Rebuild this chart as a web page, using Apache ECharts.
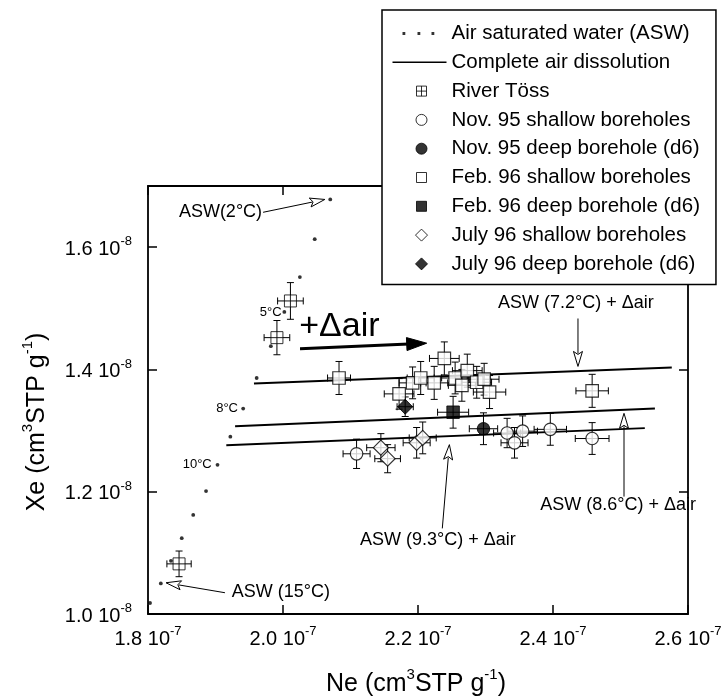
<!DOCTYPE html>
<html><head><meta charset="utf-8">
<script src="https://cdn.jsdelivr.net/npm/echarts@6/dist/echarts.min.js"></script>
<style>html,body{margin:0;padding:0;background:#fff}#c{width:726px;height:699px}</style>
</head><body><div id="c"></div>
<script>
const FONT = 'Liberation Sans, Arial, Helvetica, sans-serif';

// Units: Ne in 1e-7 cm3STP/g, Xe in 1e-8 cm3STP/g
const xExp = '-7';
const yExp = '-8';

// Air saturated water curve (2 .. 16 °C)
const aswNe = [2.070, 2.047, 2.025, 2.002, 1.982, 1.961, 1.941, 1.922, 1.903, 1.886, 1.867, 1.850, 1.834, 1.819, 1.803];
const aswXe = [1.678, 1.613, 1.551, 1.494, 1.438, 1.386, 1.336, 1.290, 1.244, 1.201, 1.162, 1.124, 1.087, 1.050, 1.018];

// Complete air dissolution lines
const line72Ne = [1.957, 2.576]; const line72Xe = [1.377, 1.403];
const line86Ne = [1.929, 2.551]; const line86Xe = [1.307, 1.336];
const line93Ne = [1.916, 2.536]; const line93Xe = [1.276, 1.304];

// River Töss
const riverNe = [2.011, 1.991, 1.846];
const riverXe = [1.512, 1.452, 1.082];
const riverNeErr = [0.019, 0.019, 0.018];
const riverXeErr = [0.030, 0.028, 0.021];

// Nov. 95 shallow
const nov95sNe = [2.109, 2.332, 2.343, 2.355, 2.396, 2.458];
const nov95sXe = [1.262, 1.296, 1.280, 1.299, 1.302, 1.287];
const nov95sNeErr = [0.020, 0.020, 0.020, 0.022, 0.024, 0.025];
const nov95sXeErr = [0.024, 0.024, 0.025, 0.025, 0.026, 0.026];

// Nov. 95 deep
const nov95dNe = [2.297];
const nov95dXe = [1.303];
const nov95dNeErr = [0.021];
const nov95dXeErr = [0.026];

// Feb. 96 shallow
const feb96sNe = [2.083, 2.172, 2.192, 2.204, 2.224, 2.239, 2.255, 2.265, 2.273, 2.287, 2.298, 2.306, 2.458];
const feb96sXe = [1.386, 1.360, 1.378, 1.386, 1.378, 1.418, 1.386, 1.374, 1.398, 1.379, 1.384, 1.363, 1.365];
const feb96sNeErr = [0.017, 0.022, 0.020, 0.020, 0.020, 0.022, 0.020, 0.020, 0.022, 0.022, 0.022, 0.024, 0.024];
const feb96sXeErr = [0.027, 0.025, 0.026, 0.027, 0.027, 0.027, 0.026, 0.026, 0.027, 0.026, 0.026, 0.027, 0.027];

// Feb. 96 deep
const feb96dNe = [2.252];
const feb96dXe = [1.330];
const feb96dNeErr = [0.023];
const feb96dXeErr = [0.026];

// July 96 shallow
const jul96sNe = [2.145, 2.155, 2.198, 2.207];
const jul96sXe = [1.272, 1.254, 1.280, 1.288];
const jul96sNeErr = [0.021, 0.019, 0.020, 0.020];
const jul96sXeErr = [0.023, 0.023, 0.025, 0.026];

// July 96 deep
const jul96dNe = [2.181];
const jul96dXe = [1.339];
const jul96dNeErr = [0.012];
const jul96dXeErr = [0.016];

const legendNames = ['Air saturated water (ASW)', 'Complete air dissolution', 'River Töss',
  'Nov. 95 shallow boreholes', 'Nov. 95 deep borehole (d6)', 'Feb. 96 shallow boreholes',
  'Feb. 96 deep borehole (d6)', 'July 96 shallow boreholes', 'July 96 deep borehole (d6)'];

// annotation anchors (data coordinates)
const notes = [
  {text: 'ASW(2°C)', ne: 1.969, xe: 1.657, align: 'right', size: 18},
  {text: '5°C', ne: 1.998, xe: 1.4926, align: 'right', size: 13},
  {text: '8°C', ne: 1.9333, xe: 1.3358, align: 'right', size: 13},
  {text: '10°C', ne: 1.8944, xe: 1.2444, align: 'right', size: 13},
  {text: 'ASW (15°C)', ne: 1.924, xe: 1.0364, align: 'left', size: 18},
  {text: '+Δair', ne: 2.024, xe: 1.4702, align: 'left', size: 34},
  {text: 'ASW (7.2°C) + Δair', ne: 2.3185, xe: 1.5078, align: 'left', size: 18},
  {text: 'ASW (8.6°C) + Δair', ne: 2.381, xe: 1.178, align: 'left', size: 18},
  {text: 'ASW (9.3°C) + Δair', ne: 2.114, xe: 1.1208, align: 'left', size: 18}
];
const arrows = [
  {from: [1.9705, 1.657], to: [2.062, 1.678], filled: false, w: 1},
  {from: [1.914, 1.0348], to: [1.8267, 1.0511], filled: false, w: 1},
  {from: [2.0252, 1.4338], to: [2.2129, 1.4429], filled: true, w: 3},
  {from: [2.437, 1.4833], to: [2.437, 1.4049], filled: false, w: 1},
  {from: [2.5052, 1.192], to: [2.5052, 1.3282], filled: false, w: 1},
  {from: [2.236, 1.140], to: [2.2465, 1.277], filled: false, w: 1}
];

const zip = (a, b) => a.map((v, i) => [v, b[i]]);

function errSeries(name, ne, xe, eNe, eXe) {
  return {
    type: 'custom', name: name, z: 2, silent: true,
    data: zip(ne, xe),
    encode: {x: 0, y: 1},
    renderItem: function (params, api) {
      const i = params.dataIndex;
      const x = ne[i], y = xe[i];
      const l = api.coord([x - eNe[i], y]), r = api.coord([x + eNe[i], y]);
      const t = api.coord([x, y + eXe[i]]), b = api.coord([x, y - eXe[i]]);
      const c = 3.5;
      const st = {stroke: '#000', lineWidth: 1};
      return {type: 'group', children: [
        {type: 'line', shape: {x1: l[0], y1: l[1], x2: r[0], y2: r[1]}, style: st},
        {type: 'line', shape: {x1: t[0], y1: t[1], x2: b[0], y2: b[1]}, style: st},
        {type: 'line', shape: {x1: l[0], y1: l[1] - c, x2: l[0], y2: l[1] + c}, style: st},
        {type: 'line', shape: {x1: r[0], y1: r[1] - c, x2: r[0], y2: r[1] + c}, style: st},
        {type: 'line', shape: {x1: t[0] - c, y1: t[1], x2: t[0] + c, y2: t[1]}, style: st},
        {type: 'line', shape: {x1: b[0] - c, y1: b[1], x2: b[0] + c, y2: b[1]}, style: st}
      ]};
    }
  };
}

const hollow = {color: '#fff', borderColor: '#000', borderWidth: 1.2};
const solid = {color: '#000', borderColor: '#000', borderWidth: 1};
const crossSq = 'path://M0,0 L10,0 L10,10 L0,10 Z M5,0 L5,10 M0,5 L10,5';

function pointSeries(name, ne, xe, symbol, size, style) {
  return {type: 'scatter', name: name, z: 3, data: zip(ne, xe), symbol: symbol, symbolSize: size, itemStyle: style, silent: true};
}
function lineSeries(ne, xe) {
  return {type: 'line', name: legendNames[1], data: zip(ne, xe), symbol: 'none', z: 2,
    lineStyle: {color: '#000', width: 2}, itemStyle: {color: '#000'}, silent: true};
}

const B = 'M0,0 M54,12 ';
const legendData = [
  {name: legendNames[0], icon: 'path://' + B + 'M10,4.6 h2.8 v2.8 h-2.8 Z M25,4.6 h2.8 v2.8 h-2.8 Z M39,4.6 h2.8 v2.8 h-2.8 Z', itemStyle: {color: '#000', borderWidth: 0}},
  {name: legendNames[1], icon: 'path://' + B + 'M0,5.2 L54,5.2 L54,6.8 L0,6.8 Z', itemStyle: {color: '#000', borderWidth: 0}},
  {name: legendNames[2], icon: 'path://' + B + 'M24,1 h10 v10 h-10 Z M29,1 v10 M24,6 h10', itemStyle: {color: '#fff', borderColor: '#000', borderWidth: 1}},
  {name: legendNames[3], icon: 'path://' + B + 'M23.5,6 A5.5,5.5 0 1,1 34.5,6 A5.5,5.5 0 1,1 23.5,6 Z', itemStyle: {color: '#fff', borderColor: '#000', borderWidth: 1}},
  {name: legendNames[4], icon: 'path://' + B + 'M23.5,6 A5.5,5.5 0 1,1 34.5,6 A5.5,5.5 0 1,1 23.5,6 Z', itemStyle: {color: '#000', borderColor: '#000', borderWidth: 1}},
  {name: legendNames[5], icon: 'path://' + B + 'M24,1 h10 v10 h-10 Z', itemStyle: {color: '#fff', borderColor: '#000', borderWidth: 1}},
  {name: legendNames[6], icon: 'path://' + B + 'M24,1 h10 v10 h-10 Z', itemStyle: {color: '#000', borderColor: '#000', borderWidth: 1}},
  {name: legendNames[7], icon: 'path://' + B + 'M29,0 L35,6 L29,12 L23,6 Z', itemStyle: {color: '#fff', borderColor: '#000', borderWidth: 1}},
  {name: legendNames[8], icon: 'path://' + B + 'M29,0 L35,6 L29,12 L23,6 Z', itemStyle: {color: '#000', borderColor: '#000', borderWidth: 1}}
];

const labelRich = {
  a: {fontSize: 20, fontFamily: FONT, color: '#000', lineHeight: 24, verticalAlign: 'bottom'},
  b: {fontSize: 13, fontFamily: FONT, color: '#000', lineHeight: 14, verticalAlign: 'top'}
};
const axLine = {show: true, lineStyle: {color: '#000', width: 1.8}};
const axTick = {show: true, inside: true, length: 9, lineStyle: {color: '#000', width: 1.5}};

const chart = echarts.init(document.getElementById('c'), null, {renderer: 'canvas'});
chart.setOption({
  animation: false,
  backgroundColor: '#fff',
  grid: {left: 148, right: 38, top: 186, bottom: 85, containLabel: false, outerBoundsMode: 'none'},
  legend: {
    orient: 'vertical', left: 382, top: 10,
    padding: [13, 16, 10, 10],
    itemWidth: 54, itemHeight: 12, itemGap: 7.8,
    backgroundColor: '#fff', borderColor: '#000', borderWidth: 1.5,
    textStyle: {fontSize: 20.5, fontFamily: FONT, color: '#000', lineHeight: 20},
    selectedMode: false,
    data: legendData, z: 10
  },
  xAxis: [
    {type: 'value', min: 1.8, max: 2.6, interval: 0.2, position: 'bottom',
      axisLine: axLine, axisTick: axTick, splitLine: {show: false},
      axisLabel: {margin: 11, formatter: v => '{a|' + v.toFixed(1) + ' 10}{b|' + xExp + '}', rich: labelRich}},
    {type: 'value', min: 1.8, max: 2.6, interval: 0.2, position: 'top',
      axisLine: axLine, axisTick: axTick, splitLine: {show: false}, axisLabel: {show: false}}
  ],
  yAxis: [
    {type: 'value', min: 1.0, max: 1.7, interval: 0.2, position: 'left',
      axisLine: axLine, axisTick: axTick, splitLine: {show: false},
      axisLabel: {margin: 16, showMaxLabel: false, formatter: v => (Math.abs(v - 1.7) < 1e-6 ? '' : '{a|' + v.toFixed(1) + ' 10}{b|' + yExp + '}'), rich: labelRich}},
    {type: 'value', min: 1.0, max: 1.7, interval: 0.2, position: 'right',
      axisLine: axLine, axisTick: axTick, splitLine: {show: false}, axisLabel: {show: false}}
  ],
  series: [
    {type: 'scatter', name: legendNames[0], data: zip(aswNe, aswXe), symbol: 'circle', symbolSize: 3.8, itemStyle: {color: '#000'}, z: 3, silent: true},
    lineSeries(line72Ne, line72Xe),
    lineSeries(line86Ne, line86Xe),
    lineSeries(line93Ne, line93Xe),
    errSeries('e1', riverNe, riverXe, riverNeErr, riverXeErr),
    errSeries('e2', nov95sNe, nov95sXe, nov95sNeErr, nov95sXeErr),
    errSeries('e3', nov95dNe, nov95dXe, nov95dNeErr, nov95dXeErr),
    errSeries('e4', feb96sNe, feb96sXe, feb96sNeErr, feb96sXeErr),
    errSeries('e5', feb96dNe, feb96dXe, feb96dNeErr, feb96dXeErr),
    errSeries('e6', jul96sNe, jul96sXe, jul96sNeErr, jul96sXeErr),
    errSeries('e7', jul96dNe, jul96dXe, jul96dNeErr, jul96dXeErr),
    pointSeries(legendNames[2], riverNe, riverXe, crossSq, 12, {color: '#fff', borderColor: '#000', borderWidth: 1}),
    pointSeries(legendNames[3], nov95sNe, nov95sXe, 'circle', 12.5, hollow),
    pointSeries(legendNames[4], nov95dNe, nov95dXe, 'circle', 12.5, solid),
    pointSeries(legendNames[5], feb96sNe, feb96sXe, 'rect', 12.5, hollow),
    pointSeries(legendNames[6], feb96dNe, feb96dXe, 'rect', 12.5, solid),
    pointSeries(legendNames[7], jul96sNe, jul96sXe, 'diamond', 15, hollow),
    pointSeries(legendNames[8], jul96dNe, jul96dXe, 'diamond', 15, solid)
  ]
});

function arrowEls(p0, p1, filled, lw) {
  const dx = p1[0] - p0[0], dy = p1[1] - p0[1];
  const L = Math.hypot(dx, dy), ux = dx / L, uy = dy / L;
  const len = filled ? 20 : 15, hw = filled ? 6.5 : 4.5;
  const bx = p1[0] - ux * len, by = p1[1] - uy * len, nx = -uy, ny = ux;
  return [
    {type: 'line', z: 50, shape: {x1: p0[0], y1: p0[1], x2: bx + ux * 2, y2: by + uy * 2}, style: {stroke: '#000', lineWidth: lw}},
    {type: 'polygon', z: 51, shape: {points: [[p1[0], p1[1]], [bx + nx * hw, by + ny * hw], [bx + ux * (filled ? 0 : 3), by + uy * (filled ? 0 : 3)], [bx - nx * hw, by - ny * hw]]},
      style: {fill: filled ? '#000' : '#fff', stroke: '#000', lineWidth: 1}}
  ];
}

const px = p => chart.convertToPixel({gridIndex: 0}, p);
const g = [];
notes.forEach(n => {
  const p = px([n.ne, n.xe]);
  g.push({type: 'text', z: 50, x: p[0], y: p[1],
    style: {text: n.text, fontSize: n.size, fontFamily: FONT, fill: '#000',
      align: n.align, textAlign: n.align, verticalAlign: 'middle', textVerticalAlign: 'middle'}});
});
arrows.forEach(a => { arrowEls(px(a.from), px(a.to), a.filled, a.w).forEach(e => g.push(e)); });

const titleRich = {
  a: {fontSize: 25, fontFamily: FONT, fill: '#000', color: '#000', lineHeight: 30, verticalAlign: 'bottom'},
  b: {fontSize: 15, fontFamily: FONT, fill: '#000', color: '#000', lineHeight: 15, verticalAlign: 'top'}
};
g.push({type: 'text', z: 50, x: 416, y: 682,
  style: {text: '{a|Ne (cm}{b|3}{a|STP g}{b|-1}{a|)}', rich: titleRich, align: 'center', textAlign: 'center', verticalAlign: 'middle', textVerticalAlign: 'middle'}});
g.push({type: 'text', z: 50, x: 35, y: 422, rotation: Math.PI / 2,
  style: {text: '{a|Xe (cm}{b|3}{a|STP g}{b|-1}{a|)}', rich: titleRich, align: 'center', textAlign: 'center', verticalAlign: 'middle', textVerticalAlign: 'middle'}});

chart.setOption({graphic: g});
</script>
</body></html>
